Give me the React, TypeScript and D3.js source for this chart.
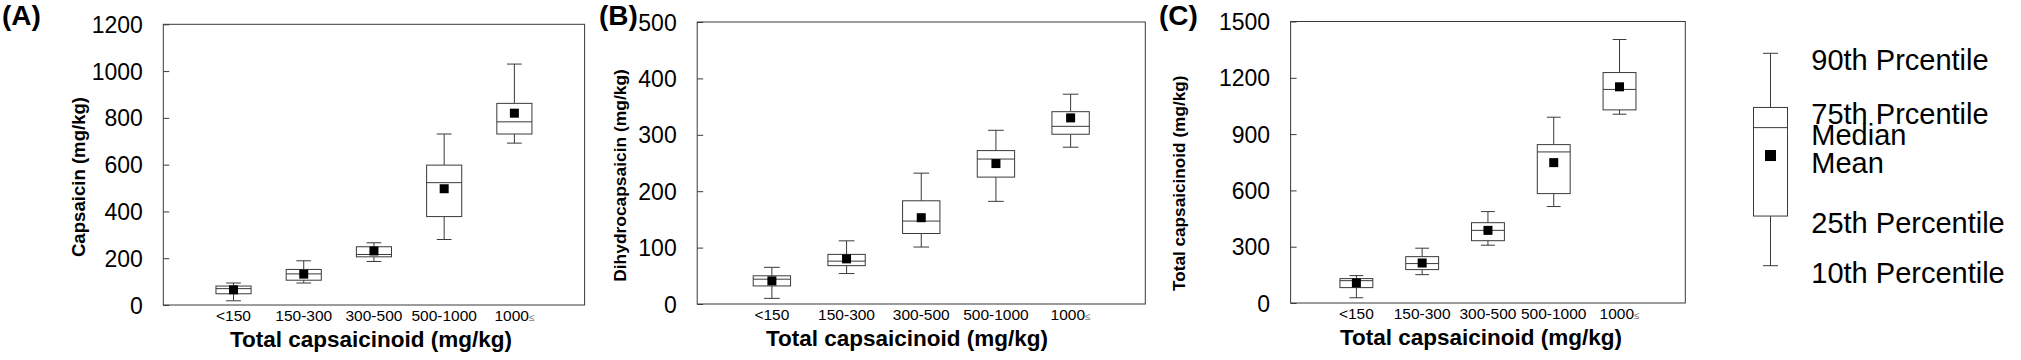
import React, { useEffect, useRef } from "react";
import * as d3 from "d3";

// x categories shared by all three panels
const categories = ["<150", "150-300", "300-500", "500-1000", "1000≤"];

// each box: [10th, 25th, median, 75th, 90th]
const capsaicinBoxes = [
  [18, 48, 70, 81, 94],
  [94, 106, 133, 152, 189],
  [186, 206, 216, 249, 266],
  [280, 378, 523, 598, 731],
  [692, 731, 783, 862, 1030],
];
const capsaicinMeans = [65, 132, 231, 497, 820];
const capsaicinTicks = [0, 200, 400, 600, 800, 1000, 1200];

const dihydroBoxes = [
  [10, 32, 44, 50, 65],
  [54, 68, 76, 88, 112],
  [101, 125, 147, 183, 232],
  [182, 225, 257, 272, 308],
  [278, 301, 315, 341, 372],
];
const dihydroMeans = [41, 80, 153, 249, 330];
const dihydroTicks = [0, 100, 200, 300, 400, 500];

const totalBoxes = [
  [28, 82, 119, 130, 146],
  [151, 178, 210, 247, 292],
  [308, 332, 387, 428, 487],
  [514, 583, 805, 844, 990],
  [1006, 1029, 1138, 1228, 1404],
];
const totalMeans = [107, 213, 387, 748, 1152];
const totalTicks = [0, 300, 600, 900, 1200, 1500];

// legend key: a sample box in arbitrary units
const legendKey = { p10: 0, q1: 18.7, mean: 41.5, median: 52, q3: 59.6, p90: 80 };
const legendLabels = [
  { text: "90th Prcentile", key: "p90" },
  { text: "75th Prcentile", key: "q3" },
  { text: "Median", key: "median" },
  { text: "Mean", key: "mean" },
  { text: "25th Percentile", key: "q1" },
  { text: "10th Percentile", key: "p10" },
];

const FONT = "'Liberation Sans', Arial, Helvetica, sans-serif";
const STROKE = "#3a3a3a";

const panels = [
  {
    label: "(A)", labelX: 2, yTitle: "Capsaicin (mg/kg)", titleX: 78, titleY: 177, titleSize: 18.6,
    boxes: capsaicinBoxes, means: capsaicinMeans, ticks: capsaicinTicks, yMax: 1200,
    x0: 163.3, x1: 584.6, y0: 24.3, y1: 305, xTitleX: 371,
  },
  {
    label: "(B)", labelX: 599, yTitle: "Dihydrocapsaicin (mg/kg)", titleX: 620, titleY: 175.5, titleSize: 17.4,
    boxes: dihydroBoxes, means: dihydroMeans, ticks: dihydroTicks, yMax: 500,
    x0: 697.2, x1: 1145.3, y0: 22, y1: 304, xTitleX: 907,
  },
  {
    label: "(C)", labelX: 1159, yTitle: "Total capsaicinoid (mg/kg)", titleX: 1178.5, titleY: 183.3, titleSize: 17.2,
    boxes: totalBoxes, means: totalMeans, ticks: totalTicks, yMax: 1500,
    x0: 1290.6, x1: 1685.3, y0: 21.5, y1: 303, xTitleX: 1481,
  },
];

export default function App() {
  const ref = useRef<SVGSVGElement>(null);

  useEffect(() => {
    const svg = d3.select(ref.current);
    svg.selectAll("*").remove();

    panels.forEach((p) => {
      const g = svg.append("g");
      const y = d3.scaleLinear().domain([0, p.yMax]).range([p.y1, p.y0]);
      const x = d3.scaleLinear().domain([0, 6]).range([p.x0, p.x1]);
      const bw = (x(1) - x(0)) * 0.5;
      const cap = bw * 0.42;

      // y axis, ticks pointing inward
      const axis = g
        .append("g")
        .attr("transform", `translate(${p.x0},0)`)
        .call(d3.axisLeft(y).tickValues(p.ticks).tickSize(-6).tickPadding(20.5).tickFormat(d3.format("d")));
      axis.select(".domain").remove();
      axis.selectAll(".tick line").attr("stroke", STROKE);
      axis
        .selectAll(".tick text")
        .attr("font-family", FONT)
        .attr("font-size", 23)
        .attr("fill", "#000")
        .attr("dy", "0.35em");

      g.append("rect")
        .attr("x", p.x0)
        .attr("y", p.y0)
        .attr("width", p.x1 - p.x0)
        .attr("height", p.y1 - p.y0)
        .attr("fill", "none")
        .attr("stroke", STROKE);

      const box = g
        .selectAll(".box")
        .data(p.boxes)
        .enter()
        .append("g")
        .attr("class", "box");

      const cx = (_: number[], i: number) => x(i + 1);

      // whiskers + caps
      box.append("line")
        .attr("x1", cx).attr("x2", cx)
        .attr("y1", (d) => y(d[3])).attr("y2", (d) => y(d[4]))
        .attr("stroke", STROKE);
      box.append("line")
        .attr("x1", cx).attr("x2", cx)
        .attr("y1", (d) => y(d[0])).attr("y2", (d) => y(d[1]))
        .attr("stroke", STROKE);
      box.append("line")
        .attr("x1", (d, i) => x(i + 1) - cap / 2).attr("x2", (d, i) => x(i + 1) + cap / 2)
        .attr("y1", (d) => y(d[4])).attr("y2", (d) => y(d[4]))
        .attr("stroke", STROKE);
      box.append("line")
        .attr("x1", (d, i) => x(i + 1) - cap / 2).attr("x2", (d, i) => x(i + 1) + cap / 2)
        .attr("y1", (d) => y(d[0])).attr("y2", (d) => y(d[0]))
        .attr("stroke", STROKE);

      box.append("rect")
        .attr("x", (d, i) => x(i + 1) - bw / 2)
        .attr("y", (d) => y(d[3]))
        .attr("width", bw)
        .attr("height", (d) => y(d[1]) - y(d[3]))
        .attr("fill", "white")
        .attr("stroke", STROKE);
      box.append("line")
        .attr("x1", (d, i) => x(i + 1) - bw / 2).attr("x2", (d, i) => x(i + 1) + bw / 2)
        .attr("y1", (d) => y(d[2])).attr("y2", (d) => y(d[2]))
        .attr("stroke", STROKE);

      // means
      g.selectAll(".mean")
        .data(p.means)
        .enter()
        .append("rect")
        .attr("class", "mean")
        .attr("x", (d, i) => x(i + 1) - 4.5)
        .attr("y", (d) => y(d) - 4.5)
        .attr("width", 9)
        .attr("height", 9)
        .attr("fill", "#000");

      // category labels
      const cat = g
        .selectAll(".cat")
        .data(categories)
        .enter()
        .append("text")
        .attr("class", "cat")
        .attr("x", (d, i) => x(i + 1))
        .attr("y", p.y1 + 16)
        .attr("text-anchor", "middle")
        .attr("font-family", FONT)
        .attr("font-size", 15.5);
      cat.each(function (d) {
        const t = d3.select(this);
        if (d.endsWith("≤")) {
          t.append("tspan").text(d.slice(0, -1));
          t.append("tspan").attr("font-size", 10).attr("fill", "#777").text("≤");
        } else {
          t.text(d);
        }
      });

      g.append("text")
        .attr("x", p.xTitleX)
        .attr("y", p.y1 + 41.5)
        .attr("text-anchor", "middle")
        .attr("font-family", FONT)
        .attr("font-weight", "bold")
        .attr("font-size", 22.5)
        .text("Total capsaicinoid (mg/kg)");

      g.append("text")
        .attr("transform", `translate(${p.titleX},${p.titleY}) rotate(-90)`)
        .attr("dy", "0.35em")
        .attr("text-anchor", "middle")
        .attr("font-family", FONT)
        .attr("font-weight", "bold")
        .attr("font-size", p.titleSize)
        .text(p.yTitle);

      g.append("text")
        .attr("x", p.labelX)
        .attr("y", 25)
        .attr("font-family", FONT)
        .attr("font-weight", "bold")
        .attr("font-size", 28)
        .text(p.label);
    });

    // legend
    const ly = d3.scaleLinear().domain([0, 80]).range([265.7, 53.3]);
    const lx = 1770.5;
    const lbw = 34;
    const lcap = 15;
    const lg = svg.append("g");
    lg.append("line").attr("x1", lx).attr("x2", lx).attr("y1", ly(legendKey.p90)).attr("y2", ly(legendKey.p10)).attr("stroke", STROKE);
    [legendKey.p90, legendKey.p10].forEach((v) =>
      lg.append("line").attr("x1", lx - lcap / 2).attr("x2", lx + lcap / 2).attr("y1", ly(v)).attr("y2", ly(v)).attr("stroke", STROKE)
    );
    lg.append("rect")
      .attr("x", lx - lbw / 2)
      .attr("y", ly(legendKey.q3))
      .attr("width", lbw)
      .attr("height", ly(legendKey.q1) - ly(legendKey.q3))
      .attr("fill", "white")
      .attr("stroke", STROKE);
    lg.append("line")
      .attr("x1", lx - lbw / 2).attr("x2", lx + lbw / 2)
      .attr("y1", ly(legendKey.median)).attr("y2", ly(legendKey.median))
      .attr("stroke", STROKE);
    lg.append("rect")
      .attr("x", lx - 5.5)
      .attr("y", ly(legendKey.mean) - 5.5)
      .attr("width", 11)
      .attr("height", 11)
      .attr("fill", "#000");
    lg.selectAll(".ltext")
      .data(legendLabels)
      .enter()
      .append("text")
      .attr("x", 1811.3)
      .attr("y", (d) => ly((legendKey as any)[d.key]) + 17)
      .attr("font-family", FONT)
      .attr("font-size", 29)
      .text((d) => d.text);
  }, []);

  return (
    <svg
      ref={ref}
      width={2021}
      height={360}
      style={{ position: "absolute", left: 0, top: 0, background: "white" }}
    />
  );
}
